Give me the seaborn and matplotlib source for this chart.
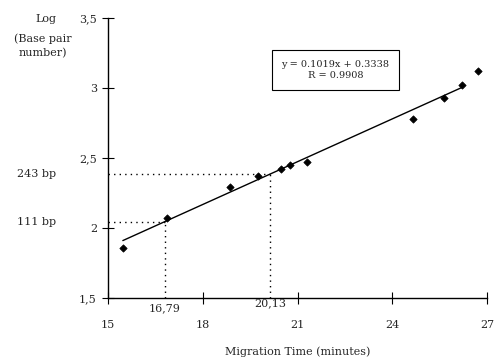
import numpy as np
import pandas as pd
import matplotlib
matplotlib.use("Agg")
import matplotlib.pyplot as plt
import seaborn as sns

# Data
migration_time = [15.47, 16.86, 18.86, 19.74, 20.49, 20.76, 21.31, 24.66, 25.63, 26.22, 26.71]
log_bp = [1.86, 2.07, 2.29, 2.37, 2.42, 2.45, 2.475, 2.78, 2.93, 3.02, 3.12]
slope = 0.1019
intercept = 0.3338
r_value = 0.9908
fit_x_range = [15.47, 26.22]
marker_times = [16.79, 20.13]
marker_labels = ["16,79", "20,13"]
bp_values = [111, 243]
bp_labels = ["111 bp", "243 bp"]
x_ticks = [15, 18, 21, 24, 27]
y_ticks = [1.5, 2.0, 2.5, 3.0, 3.5]
y_tick_labels = ["1,5", "2", "2,5", "3", "3,5"]

sns.set_theme(style="white")
plt.rcParams["font.family"] = ["DejaVu Serif"]

df = pd.DataFrame({"t": migration_time, "logbp": log_bp})
fit_x = np.array(fit_x_range)
fit_df = pd.DataFrame({"t": fit_x, "y": slope * fit_x + intercept})

fig = plt.figure(figsize=(4.94, 3.58), dpi=100)
ax = fig.add_axes([0.2186, 0.1676, 0.986 - 0.2186, 0.9497 - 0.1676])

sns.lineplot(data=fit_df, x="t", y="y", ax=ax, color="black", linewidth=1.0)
sns.scatterplot(data=df, x="t", y="logbp", ax=ax, color="black", marker="D", s=14, edgecolor="black", linewidth=0.5, zorder=3)

ax.set_xlim(15, 27)
ax.set_ylim(1.5, 3.5)

# dotted guide lines
for t, bp in zip(marker_times, bp_values):
    yv = np.log10(bp)
    ax.plot([15, t], [yv, yv], color="black", linestyle=(0, (1, 3)), linewidth=1.0)
    ax.plot([t, t], [1.5, yv], color="black", linestyle=(0, (1, 3)), linewidth=1.0)

ax.set_xticks(x_ticks)
ax.set_xticklabels([str(v) for v in x_ticks], fontsize=8)
ax.set_yticks(y_ticks)
ax.set_yticklabels(y_tick_labels, fontsize=8)
ax.tick_params(axis="both", direction="inout", length=8, width=0.8, color="black", bottom=True, left=True)
ax.tick_params(axis="x", pad=12)
ax.tick_params(axis="y", pad=4)

for side in ["top", "right"]:
    ax.spines[side].set_visible(False)
for side in ["left", "bottom"]:
    ax.spines[side].set_color("black")
    ax.spines[side].set_linewidth(1.0)

ax.set_xlabel("Migration Time (minutes)", fontsize=8, labelpad=12)
ax.set_ylabel("")

# bp labels at left
for bp, lab in zip(bp_values, bp_labels):
    ax.text(-0.24, np.log10(bp), lab, transform=ax.get_yaxis_transform(), fontsize=8, va="center", ha="left")

# marker time labels below axis
ax.text(marker_times[0], 1.5 - 0.035, marker_labels[0], fontsize=8, ha="center", va="top")
ax.text(marker_times[1], 1.5 - 0.005, marker_labels[1], fontsize=8, ha="center", va="top")

# y label at top left
fig.text(0.093, 0.947, "Log", fontsize=8, ha="center", va="center")
fig.text(0.087, 0.872, "(Base pair\nnumber)", fontsize=8, ha="center", va="center", linespacing=1.5)

# equation box
ax.text(0.60, 0.815, f"y = {slope}x + {intercept}\nR = {r_value}", transform=ax.transAxes,
        fontsize=7, ha="center", va="center", linespacing=1.3,
        bbox=dict(boxstyle="square,pad=1.0", facecolor="white", edgecolor="black", linewidth=0.8))

fig.savefig("out.png", dpi=100)
